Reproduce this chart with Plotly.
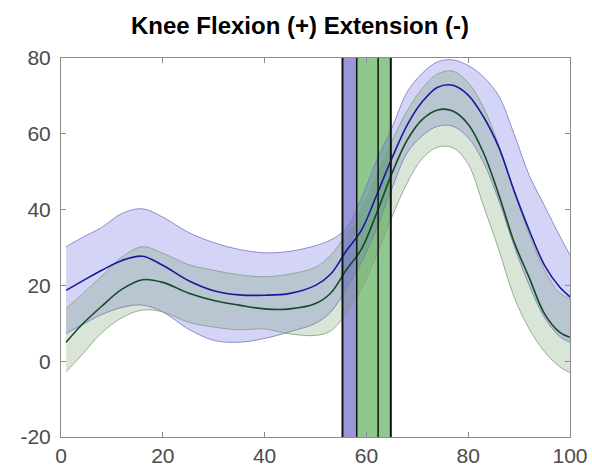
import plotly.graph_objects as go

# gait cycle (%) knots
x = [1, 4, 8, 12, 16, 20, 25, 30, 35, 40, 45, 50, 53, 56, 59, 62, 65, 68, 71, 74, 77, 80, 83, 86, 89, 92, 95, 98, 100]

blue_mean = [18.7, 21.0, 24.0, 26.6, 27.7, 25.3, 21.3, 18.6, 17.5, 17.4, 17.9, 20.0, 23.0, 29.0, 34.5, 43.8, 53.5, 62.3, 68.5, 72.3, 72.8, 70.2, 64.5, 56.5, 45.0, 34.5, 25.3, 19.5, 17.0]
blue_upper = [30.2, 32.5, 35.3, 39.0, 40.2, 38.0, 34.0, 31.3, 29.5, 28.6, 29.0, 30.5, 32.0, 35.0, 43.0, 53.0, 61.5, 71.0, 76.0, 79.0, 79.5, 78.0, 75.0, 70.0, 60.0, 49.0, 41.0, 33.0, 28.0]
blue_lower = [7.3, 9.5, 12.3, 14.2, 14.8, 13.0, 8.5, 5.5, 5.0, 6.0, 7.8, 10.0, 13.0, 19.0, 26.0, 35.0, 45.5, 55.0, 59.5, 62.0, 62.0, 59.0, 52.5, 42.5, 30.5, 20.0, 11.5, 6.5, 5.0]

green_mean = [5.0, 9.5, 14.5, 19.0, 21.5, 20.8, 18.0, 16.0, 14.8, 13.8, 13.8, 15.2, 18.0, 24.0, 29.5, 39.0, 49.5, 58.3, 63.8, 66.3, 66.0, 62.5, 55.0, 44.0, 31.5, 22.0, 12.5, 7.6, 6.3]
green_upper = [13.9, 17.5, 22.5, 27.5, 30.2, 28.5, 25.5, 24.0, 22.8, 22.3, 23.0, 24.8, 28.0, 33.5, 40.0, 49.0, 58.0, 66.0, 72.0, 75.8, 76.5, 73.5, 67.0, 57.0, 45.0, 33.5, 24.0, 18.0, 16.5]
green_lower = [-2.8, 1.5, 7.5, 11.5, 13.5, 13.0, 10.3, 9.0, 8.3, 8.5, 7.2, 6.8, 8.0, 12.5, 19.0, 28.0, 38.0, 47.0, 53.5, 56.5, 56.3, 52.0, 41.0, 29.5, 17.0, 8.5, 2.5, -1.5, -3.0]

# toe-off event bands (% gait cycle)
blue_event = [55.3, 58.1]
green_event = [58.1, 64.8]
event_lines = [55.3, 58.1, 62.3, 64.8]

x_ticks = [0, 20, 40, 60, 80, 100]
y_ticks = [-20, 0, 20, 40, 60, 80]

fig = go.Figure()

def add_band(lower, upper, fillc, edgec):
    fig.add_trace(go.Scatter(x=x, y=lower, mode="lines", line=dict(color=edgec, width=1, shape="spline", smoothing=1),
                             hoverinfo="skip", showlegend=False))
    fig.add_trace(go.Scatter(x=x, y=upper, mode="lines", line=dict(color=edgec, width=1, shape="spline", smoothing=1),
                             fill="tonexty", fillcolor=fillc, hoverinfo="skip", showlegend=False))

add_band(blue_lower, blue_upper, "rgba(95,95,225,0.27)", "rgba(125,125,195,0.85)")
add_band(green_lower, green_upper, "rgba(105,150,95,0.25)", "rgba(140,160,135,0.85)")

fig.add_trace(go.Scatter(x=x, y=blue_mean, mode="lines",
                         line=dict(color="rgb(25,25,160)", width=1.6, shape="spline", smoothing=1), showlegend=False))
fig.add_trace(go.Scatter(x=x, y=green_mean, mode="lines",
                         line=dict(color="rgb(20,75,40)", width=1.6, shape="spline", smoothing=1), showlegend=False))

fig.add_shape(type="rect", xref="x", yref="y", x0=blue_event[0], x1=blue_event[1], y0=-20, y1=80,
              fillcolor="rgb(152,152,215)", line=dict(width=0), layer="below")
fig.add_shape(type="rect", xref="x", yref="y", x0=green_event[0], x1=green_event[1], y0=-20, y1=80,
              fillcolor="rgb(142,200,140)", line=dict(width=0), layer="below")
for i, xv in enumerate(event_lines):
    w = 2 if i in (0, 3) else 1.5
    fig.add_shape(type="line", xref="x", yref="y", x0=xv, x1=xv, y0=-20, y1=80,
                  line=dict(color="rgb(20,20,20)", width=w), layer="above")

axis_common = dict(showgrid=False, zeroline=False, showline=True, linecolor="rgb(140,140,140)", linewidth=1,
                   mirror="ticks", ticks="inside", ticklen=5, tickcolor="rgb(140,140,140)", automargin=False,
                   tickfont=dict(family="Liberation Sans, Arial, sans-serif", size=21, color="rgb(75,75,75)"))

fig.update_xaxes(range=[0, 100], tickvals=x_ticks, ticktext=[str(t) for t in x_ticks],
                 ticklabelstandoff=0, **axis_common)
fig.update_yaxes(range=[-20, 80], tickvals=y_ticks, ticktext=[str(t) for t in y_ticks],
                 ticklabelstandoff=5, **axis_common)

fig.update_layout(
    width=592, height=469,
    margin=dict(l=61, r=22, t=58, b=32),
    paper_bgcolor="white", plot_bgcolor="white",
    title=dict(text="<b>Knee Flexion (+) Extension (-)</b>", x=300 / 592, xanchor="center",
               y=1 - 26 / 469, yanchor="middle", yref="container",
               font=dict(family="Liberation Sans, Arial, sans-serif", size=24, color="black")),
)

fig.write_html("out.html")
